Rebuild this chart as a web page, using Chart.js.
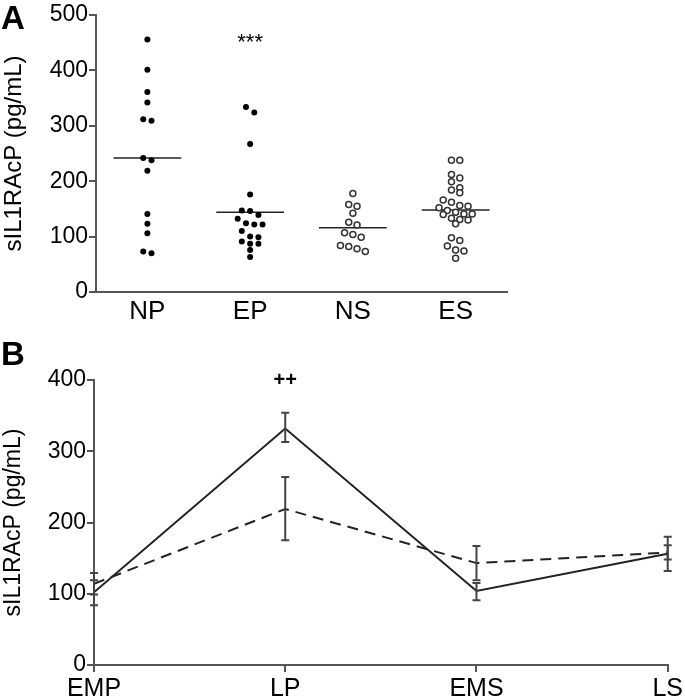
<!DOCTYPE html>
<html>
<head>
<meta charset="utf-8">
<script src="https://cdn.jsdelivr.net/npm/chart.js@4.4.1/dist/chart.umd.min.js"></script>
<style>
  html, body { margin: 0; padding: 0; background: #fff; }
  body { width: 685px; height: 699px; position: relative; overflow: hidden; font-family: 'Liberation Sans', Arial, sans-serif; }
  .panel { position: absolute; left: 0; width: 685px; }
  #wrapA { top: 0; height: 335px; }
  #wrapB { top: 335px; height: 364px; }
  .tag { position: absolute; left: 1px; font-weight: bold; font-size: 33px; line-height: 1; color: #000; }
</style>
</head>
<body>
<div class="panel" id="wrapA"><canvas id="chartA" width="685" height="335"></canvas></div>
<div class="panel" id="wrapB"><canvas id="chartB" width="685" height="364"></canvas></div>
<div class="tag" style="top:1px">A</div>
<div class="tag" style="top:337px">B</div>

<script>
// --- Panel A: individual values per group ---
const groupsA = ['NP', 'EP', 'NS', 'ES'];
const valuesNP = [456, 401, 361, 342, 312, 309, 242, 238, 219, 141, 123, 106, 73, 70];
const valuesEP = [334, 324, 267, 176, 147, 146, 139, 132, 124, 122, 122, 110, 100, 99, 91, 87, 87, 76, 63];
const valuesNS = [178, 158, 155, 142, 126, 121, 107, 104, 99, 84, 82, 78, 73];
const valuesES = [238, 238, 212, 206, 199, 188, 184, 179, 166, 162, 156, 155, 152, 147, 144,
                  141, 141, 140, 133, 131, 130, 123, 98, 93, 83, 76, 74, 61];
const mediansA = [242, 144, 116, 148];
const filledA = [true, true, false, false];
const ticksA = [0, 100, 200, 300, 400, 500];

// --- Panel B: means with error bars over time ---
const timepointsB = ['EMP', 'LP', 'EMS', 'LS'];
const solidMean = [102, 332, 104, 156];
const solidLow  = [84, 313, 91, 132];
const solidHigh = [119, 354, 115, 180];
const dashedMean = [114, 219, 143, 158];
const dashedLow  = [99, 175, 119, 148];
const dashedHigh = [129, 264, 167, 168];

const notes = [
  { chart: 'A', x: 1, y: 450, text: '***', bold: false, size: 22 },
  { chart: 'B', x: 1, y: 400, text: '++', bold: true, size: 20 },
];

const FONT = "'Liberation Sans', Arial, sans-serif";
const AXIS = '#555';
const INK = '#222';

// text annotations placed through the scales
const notesPlugin = {
  id: 'notes',
  afterDatasetsDraw(chart) {
    const { ctx, scales: { x, y } } = chart;
    notes.filter(n => n.chart === chart.canvas.dataset.panel).forEach(n => {
      ctx.save();
      ctx.fillStyle = '#000';
      ctx.font = `${n.bold ? 'bold ' : ''}${n.size}px ${FONT}`;
      ctx.textAlign = 'center';
      ctx.textBaseline = 'middle';
      ctx.fillText(n.text, x.getPixelForValue(n.x), y.getPixelForValue(n.y));
      ctx.restore();
    });
  }
};

// vertical error bars with caps
const errorBars = {
  id: 'errorBars',
  afterDatasetsDraw(chart) {
    const { ctx, scales: { x, y } } = chart;
    chart.data.datasets.forEach(ds => {
      if (!ds.errLow) return;
      ds.data.forEach((v, i) => {
        const px = x.getPixelForValue(i);
        const lo = y.getPixelForValue(ds.errLow[i]);
        const hi = y.getPixelForValue(ds.errHigh[i]);
        ctx.save();
        ctx.strokeStyle = '#444';
        ctx.lineWidth = 2;
        ctx.beginPath();
        ctx.moveTo(px, lo); ctx.lineTo(px, hi);
        ctx.moveTo(px - 4, lo); ctx.lineTo(px + 4, lo);
        ctx.moveTo(px - 4, hi); ctx.lineTo(px + 4, hi);
        ctx.stroke();
        ctx.restore();
      });
    });
  }
};

// --- Chart A ---
const groupValues = [valuesNP, valuesEP, valuesNS, valuesES];
const MEDIAN_HALF = 0.33;

const datasetsA = groupValues.map((vals, i) => ({
  type: 'scatter',
  data: vals.map(v => ({ x: i, y: v })),
  pointRadius: 3,
  pointBorderWidth: filledA[i] ? 0 : 1.5,
  pointBackgroundColor: filledA[i] ? '#000' : '#fff',
  pointBorderColor: filledA[i] ? '#000' : '#333',
}));
mediansA.forEach((m, i) => {
  datasetsA.push({
    type: 'line',
    data: [{ x: i - MEDIAN_HALF, y: m }, { x: i + MEDIAN_HALF, y: m }],
    borderColor: INK,
    borderWidth: 1.5,
    pointRadius: 0,
  });
});

const yTickFont = { family: FONT, size: 23 };
const titleFont = { family: FONT, size: 24 };

const canvasA = document.getElementById('chartA');
canvasA.dataset.panel = 'A';
const chartA = new Chart(canvasA, {
  type: 'scatter',
  data: { datasets: datasetsA },
  options: {
    responsive: false,
    animation: false,
    layout: { padding: { left: 0, right: 178, top: 15, bottom: 0 } },
    plugins: { legend: { display: false }, tooltip: { enabled: false } },
    scales: {
      x: {
        type: 'linear', min: -0.5, max: 3.5,
        afterBuildTicks: s => { s.ticks = groupsA.map((g, i) => ({ value: i })); },
        ticks: { callback: v => groupsA[v], font: { family: FONT, size: 26 }, color: '#000', padding: -4, autoSkip: false, maxRotation: 0 },
        grid: { display: false },
        border: { color: AXIS, width: 2 },
        afterFit: s => { s.height = 43; },
      },
      y: {
        min: 0, max: 500,
        afterBuildTicks: s => { s.ticks = ticksA.map(v => ({ value: v })); },
        ticks: { font: yTickFont, color: '#000', padding: 1 },
        grid: { drawOnChartArea: false, drawTicks: true, tickLength: 7, color: AXIS, lineWidth: 2 },
        border: { color: AXIS, width: 2 },
        title: { display: true, text: 'sIL1RAcP (pg/mL)', font: titleFont, color: '#000', padding: { top: 0, bottom: 3 } },
        afterFit: s => { s.width = 96; },
      },
    },
  },
  plugins: [notesPlugin],
});

// spread equal-ish values into centred rows, like a dot plot
function spreadRows(vals, idx, xs, ys, d) {
  const sorted = [...vals].sort((a, b) => b - a);
  const rows = [];
  sorted.forEach(v => {
    const py = ys.getPixelForValue(v);
    const row = rows[rows.length - 1];
    if (row && py - row.top < d * 0.75) row.items.push(v);
    else rows.push({ top: py, items: [v] });
  });
  const cx = xs.getPixelForValue(idx);
  const out = [];
  rows.forEach(r => {
    const n = r.items.length;
    r.items.forEach((v, k) => {
      out.push({ x: xs.getValueForPixel(cx + (k - (n - 1) / 2) * d), y: v });
    });
  });
  return out;
}
groupValues.forEach((vals, i) => {
  chartA.data.datasets[i].data = spreadRows(vals, i, chartA.scales.x, chartA.scales.y, 8.3);
});
chartA.update('none');

// --- Chart B ---
const canvasB = document.getElementById('chartB');
canvasB.dataset.panel = 'B';
new Chart(canvasB, {
  type: 'line',
  data: {
    datasets: [
      {
        data: solidMean.map((v, i) => ({ x: i, y: v })),
        errLow: solidLow, errHigh: solidHigh,
        borderColor: INK, borderWidth: 2, pointRadius: 0, tension: 0,
      },
      {
        data: dashedMean.map((v, i) => ({ x: i, y: v })),
        errLow: dashedLow, errHigh: dashedHigh,
        borderColor: INK, borderWidth: 2, borderDash: [11, 7], pointRadius: 0, tension: 0,
      },
    ],
  },
  options: {
    responsive: false,
    animation: false,
    layout: { padding: { left: 0, right: 14, top: 45, bottom: 0 } },
    plugins: { legend: { display: false }, tooltip: { enabled: false } },
    scales: {
      x: {
        type: 'linear', min: 0, max: 3,
        afterBuildTicks: s => { s.ticks = timepointsB.map((t, i) => ({ value: i })); },
        ticks: { callback: v => timepointsB[v], font: { family: FONT, size: 25 }, color: '#000', padding: 2, autoSkip: false, maxRotation: 0 },
        grid: { drawOnChartArea: false, drawTicks: true, tickLength: 7, color: AXIS, lineWidth: 2 },
        border: { color: AXIS, width: 2 },
        afterFit: s => { s.height = 34; },
      },
      y: {
        min: 0, max: 400,
        ticks: { stepSize: 100, font: yTickFont, color: '#000', padding: 1 },
        grid: { drawOnChartArea: false, drawTicks: true, tickLength: 7, color: AXIS, lineWidth: 2 },
        border: { color: AXIS, width: 2 },
        title: { display: true, text: 'sIL1RAcP (pg/mL)', font: { family: FONT, size: 23 }, color: '#000', padding: { top: 0, bottom: 3 } },
        afterFit: s => { s.width = 94; },
      },
    },
  },
  plugins: [errorBars, notesPlugin],
});
</script>
</body>
</html>
